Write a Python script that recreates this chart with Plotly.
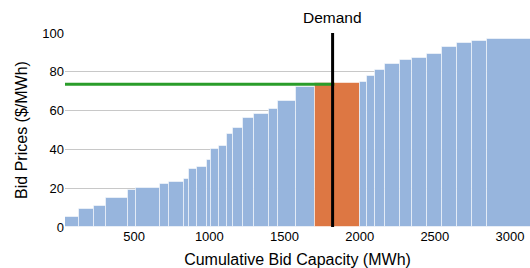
import plotly.graph_objects as go

# ---- data ----
start_capacity = 40  # MWh, left edge of first bid
bid_capacity = [95, 100, 75, 150, 50, 160, 60, 100, 35, 50, 70, 25, 55, 50, 40, 70,
                75, 100, 60, 115, 125, 300, 50, 50, 70, 100, 80, 100, 100, 100, 100,
                100, 300]
bid_price = [5, 9.5, 11, 15, 19, 20, 22, 23.3, 25, 30, 31, 34.5, 40, 42, 48, 51,
             56, 58, 61, 65, 72, 74.3, 75, 78, 81, 84, 86, 87, 89, 93, 95, 96, 97]
demand = 1820
clearing_price = 73.6
x_ticks = [500, 1000, 1500, 2000, 2500, 3000]
y_ticks = [0, 20, 40, 60, 80, 100]

# ---- derived ----
lefts, mids = [], []
c = start_capacity
for w in bid_capacity:
    lefts.append(c)
    mids.append(c + w / 2)
    c += w
end_capacity = c

blue = "#97b5dd"
orange = "#dd7743"
colors = [orange if (l <= demand < l + w) else blue for l, w in zip(lefts, bid_capacity)]

fig = go.Figure()
fig.add_trace(go.Bar(
    x=mids, y=bid_price, width=bid_capacity,
    marker=dict(color=colors, line=dict(color="rgba(255,255,255,0.55)", width=1)),
    hoverinfo="x+y", showlegend=False,
))

# clearing price line
fig.add_shape(type="line", x0=start_capacity, x1=demand + 12, y0=clearing_price, y1=clearing_price,
              line=dict(color="#2a9d2a", width=3), layer="above")
# demand line
fig.add_shape(type="line", x0=demand, x1=demand, y0=0, y1=100,
              line=dict(color="black", width=3), layer="above")
fig.add_annotation(x=demand, y=1, xref="x", yref="paper", text="Demand",
                   showarrow=False, yanchor="bottom", yshift=5,
                   font=dict(size=15.5, color="black"))

font_family = "Liberation Sans, Arial, Helvetica, sans-serif"
fig.update_layout(
    width=530, height=268,
    margin=dict(l=65, r=0, t=33, b=41, autoexpand=False),
    plot_bgcolor="white", paper_bgcolor="white",
    font=dict(family=font_family, color="black", size=13),
    bargap=0,
    xaxis=dict(range=[start_capacity, 3133], tickvals=x_ticks, showgrid=False,
               zeroline=False, showline=False, ticks="", automargin=False,
               tickfont=dict(size=13),
               title=dict(text="Cumulative Bid Capacity (MWh)", font=dict(size=16), standoff=11)),
    yaxis=dict(range=[0, 100], tickvals=y_ticks, showgrid=True, gridcolor="#c8c8c8",
               gridwidth=1, zeroline=False, showline=False, ticks="", automargin=False,
               tickfont=dict(size=13),
               title=dict(text="Bid Prices ($/MWh)", font=dict(size=16), standoff=10)),
)

fig.write_html("out.html",
               config={"displayModeBar": False},
               post_script="document.body.style.margin='0';document.body.style.overflow='hidden';")
